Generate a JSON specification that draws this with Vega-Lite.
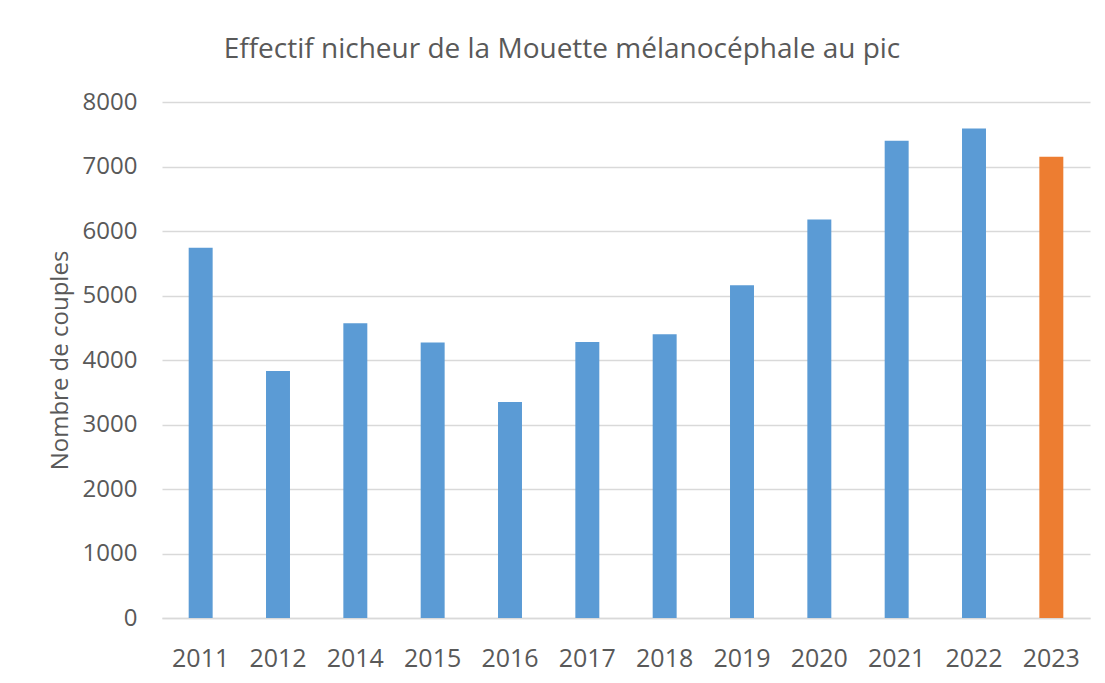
{
  "$schema": "https://vega.github.io/schema/vega-lite/v6.json",
  "width": 928,
  "height": 516,
  "autosize": {"type": "none"},
  "padding": {"left": 162, "top": 102, "right": 15, "bottom": 65},
  "background": "#ffffff",
  "title": {
    "text": "Effectif nicheur de la Mouette mélanocéphale au pic",
    "font": "Open Sans",
    "fontSize": 28,
    "fontWeight": "normal",
    "color": "#595959",
    "anchor": "middle",
    "frame": "group",
    "baseline": "alphabetic",
    "offset": 42,
    "dx": -64,
    "dy": 38
  },
  "data": {
    "values": [
      {"annee": "2011", "couples": 5740},
      {"annee": "2012", "couples": 3830},
      {"annee": "2014", "couples": 4570},
      {"annee": "2015", "couples": 4270},
      {"annee": "2016", "couples": 3350},
      {"annee": "2017", "couples": 4280},
      {"annee": "2018", "couples": 4400},
      {"annee": "2019", "couples": 5160},
      {"annee": "2020", "couples": 6180},
      {"annee": "2021", "couples": 7400},
      {"annee": "2022", "couples": 7590},
      {"annee": "2023", "couples": 7150}
    ]
  },
  "mark": {"type": "bar"},
  "encoding": {
    "x": {
      "field": "annee",
      "type": "ordinal",
      "scale": {"paddingInner": 0.69, "paddingOuter": 0.345},
      "axis": {
        "title": null,
        "labelAngle": 0,
        "ticks": false,
        "tickSize": 0,
        "labelPadding": 28,
        "labelFont": "Open Sans",
        "labelFontSize": 25,
        "labelColor": "#595959",
        "domainColor": "#d9d9d9",
        "domainWidth": 1.5
      }
    },
    "y": {
      "field": "couples",
      "type": "quantitative",
      "scale": {"domain": [0, 8000], "nice": false},
      "axis": {
        "title": "Nombre de couples",
        "values": [0, 1000, 2000, 3000, 4000, 5000, 6000, 7000, 8000],
        "format": "d",
        "ticks": false,
        "tickSize": 0,
        "domain": false,
        "labelPadding": 25,
        "labelFont": "Open Sans",
        "labelFontSize": 24,
        "labelColor": "#595959",
        "titleFont": "Open Sans",
        "titleFontSize": 24,
        "titleFontWeight": "normal",
        "titleColor": "#595959",
        "titlePadding": 10,
        "gridColor": "#d9d9d9",
        "gridWidth": 1.5
      }
    },
    "color": {
      "condition": {"test": "datum.annee === '2023'", "value": "#ED7D31"},
      "value": "#5B9BD5"
    }
  },
  "config": {"view": {"stroke": null}}
}
